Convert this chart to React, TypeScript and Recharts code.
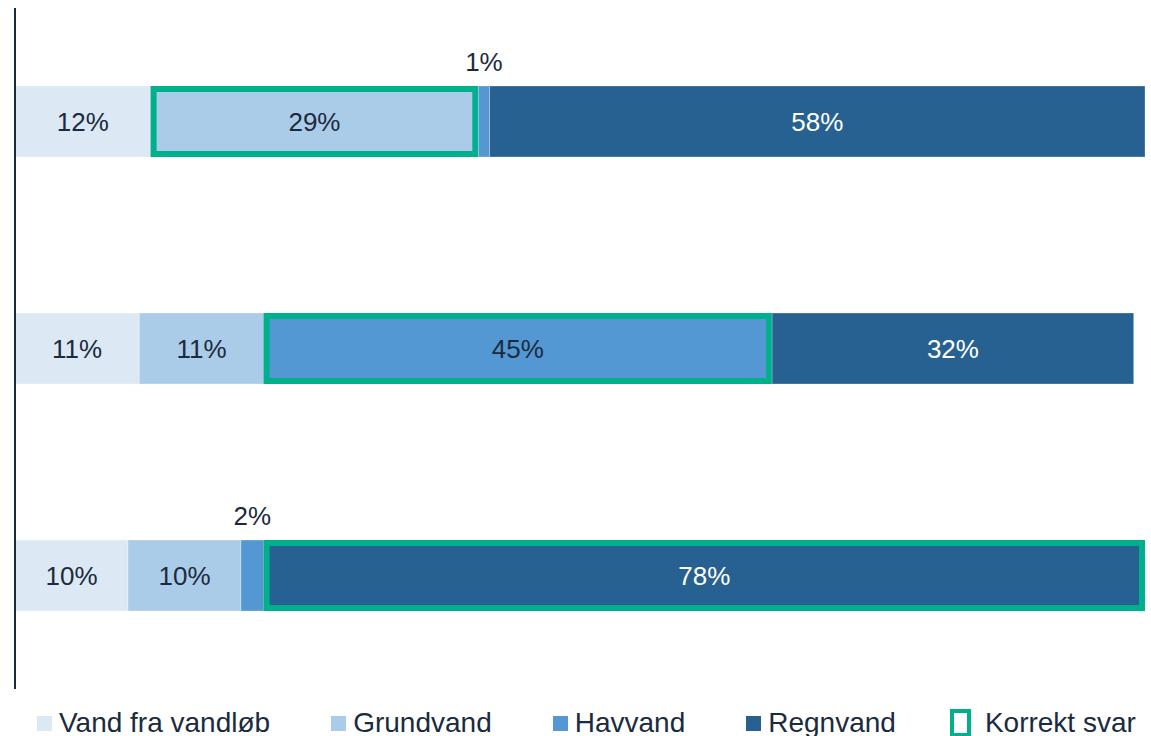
import React from "react";
import { BarChart, Bar, XAxis, YAxis, LabelList, ReferenceLine } from "recharts";

const categories = ["Spørgsmål 1", "Spørgsmål 2", "Spørgsmål 3"];
const vandFraVandlob = [12, 11, 10];
const grundvand = [29, 11, 10];
const havvand = [1, 45, 2];
const regnvand = [58, 32, 78];
const correctAnswer = ["grundvand", "havvand", "regnvand"];

const seriesKeys = ["vandFraVandlob", "grundvand", "havvand", "regnvand"];
const seriesNames = ["Vand fra vandløb", "Grundvand", "Havvand", "Regnvand"];
const colors = ["#dce9f5", "#abcce9", "#5398d2", "#266192"];
const labelColors = ["#1b2b3e", "#1b2b3e", "#1b2b3e", "#ffffff"];
const GREEN = "#00b08d";
const TEXT = "#1b2b3e";
const FONT = "'Liberation Sans', Arial, Helvetica, sans-serif";

const data = categories.map((c, i) => ({
  category: c,
  vandFraVandlob: vandFraVandlob[i],
  grundvand: grundvand[i],
  havvand: havvand[i],
  regnvand: regnvand[i],
  correct: correctAnswer[i],
}));

const makeShape = (key: string) => (props: any) => {
  const { x, y, width, height, fill, payload } = props;
  const isCorrect = payload && payload.correct === key;
  const sw = 6;
  return (
    <g>
      <rect x={x} y={y} width={width} height={height} fill={fill} stroke="#ffffff" strokeOpacity={0.35} strokeWidth={0.8} />
      {isCorrect && width > sw ? (
        <rect
          x={x + sw / 2}
          y={y + sw / 2}
          width={width - sw}
          height={height - sw}
          fill="none"
          stroke={GREEN}
          strokeWidth={sw}
        />
      ) : null}
    </g>
  );
};

const makeLabel = (color: string) => (props: any) => {
  const vb = props.viewBox || {};
  const x = props.x ?? vb.x;
  const y = props.y ?? vb.y;
  const width = props.width ?? vb.width;
  const height = props.height ?? vb.height;
  const value = props.value;
  if (value === undefined || value === null) return null;
  const small = value < 5;
  const cx = x + width / 2;
  const cy = small ? y - 24 : y + height / 2;
  return (
    <text
      x={cx}
      y={cy}
      textAnchor="middle"
      dominantBaseline="central"
      fill={small ? TEXT : color}
      fontSize={26}
      fontFamily={FONT}
    >
      {`${value}%`}
    </text>
  );
};

const LegendRow = () => (
  <div
    style={{
      position: "absolute",
      left: 37,
      top: 707,
      display: "flex",
      alignItems: "center",
      fontFamily: FONT,
      fontSize: 28,
      color: TEXT,
      lineHeight: "32px",
      whiteSpace: "nowrap",
    }}
  >
    {seriesNames.map((n, i) => (
      <div key={n} style={{ display: "flex", alignItems: "center", marginRight: 61 }}>
        <span style={{ display: "inline-block", width: 15, height: 15, background: colors[i], marginRight: 7 }} />
        <span>{n}</span>
      </div>
    ))}
    <div style={{ display: "flex", alignItems: "center", marginLeft: -7 }}>
      <span
        style={{
          display: "inline-block",
          width: 13,
          height: 20,
          border: `4px solid ${GREEN}`,
          marginRight: 14,
        }}
      />
      <span>Korrekt svar</span>
    </div>
  </div>
);

export default function App() {
  return (
    <div style={{ position: "absolute", left: 0, top: 0, width: 1151, height: 736, background: "#ffffff", overflow: "hidden" }}>
      <BarChart
        width={1151}
        height={689}
        data={data}
        layout="vertical"
        margin={{ top: 8, right: 6, bottom: 0, left: 15 }}
        barSize={71}
      >
        <XAxis type="number" domain={[0, 100]} hide />
        <YAxis type="category" dataKey="category" hide />
        {seriesKeys.map((k, i) => (
          <Bar
            key={k}
            dataKey={k}
            name={seriesNames[i]}
            stackId="a"
            fill={colors[i]}
            isAnimationActive={false}
            shape={makeShape(k)}
          >
            <LabelList dataKey={k} content={makeLabel(labelColors[i])} />
          </Bar>
        ))}
        <ReferenceLine x={0} stroke={TEXT} strokeWidth={2} ifOverflow="visible" />
      </BarChart>
      <LegendRow />
    </div>
  );
}
